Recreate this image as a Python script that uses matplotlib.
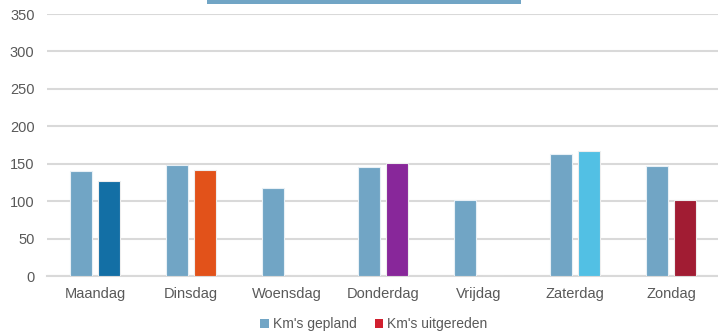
import matplotlib.pyplot as plt
import numpy as np
from matplotlib.patches import Rectangle, Patch

plt.rcParams['font.family'] = ['Liberation Sans', 'DejaVu Sans']

# Kilometres per day of the week
dagen = ['Maandag', 'Dinsdag', 'Woensdag', 'Donderdag', 'Vrijdag', 'Zaterdag', 'Zondag']
km_gepland = [140, 148, 118, 145, 101, 163, 147]
km_uitgereden = [127, 141, 0, 151, 0, 167, 101]

kleur_gepland = '#71A5C5'
kleuren_uitgereden = ['#136FA5', '#E2521A', '#E2521A', '#88279A', '#88279A', '#52C0E4', '#A11C33']
legend_rood = '#D1202F'
tekst = '#595959'
grid = '#D9D9D9'

fig = plt.figure(figsize=(7.18, 3.34), dpi=100)
ax = fig.add_axes([47 / 718, 1 - 276 / 334, 672 / 718, 262 / 334])

x = np.arange(len(dagen))
breedte = 0.226
tussen = 0.0625
ax.bar(x - (breedte + tussen) / 2, km_gepland, breedte, color=kleur_gepland,
       edgecolor='#E8F0F6', linewidth=0.8, zorder=3)
ax.bar(x + (breedte + tussen) / 2, km_uitgereden, breedte, color=kleuren_uitgereden,
       edgecolor='#EEEEEE', linewidth=0.8, zorder=3)

ax.set_xlim(-0.5, len(dagen) - 0.5)
ax.set_ylim(0, 350)
ax.set_yticks(range(0, 351, 50))
ax.set_xticks(x)
ax.set_xticklabels(dagen)
ax.yaxis.grid(True, color=grid, linewidth=1.5, zorder=0)
ax.set_axisbelow(True)
for s in ['top', 'right', 'left']:
    ax.spines[s].set_visible(False)
ax.spines['bottom'].set_color(grid)
ax.spines['bottom'].set_linewidth(1.5)
ax.tick_params(axis='both', length=0, labelsize=10.5, colors=tekst)
ax.tick_params(axis='x', pad=8)
ax.tick_params(axis='y', pad=9)

# title box clipped at the top edge
fig.patches.append(Rectangle((207 / 718, 1 - 4 / 334), 314 / 718, 4 / 334,
                             transform=fig.transFigure, facecolor=kleur_gepland,
                             edgecolor='none'))

handles = [Patch(facecolor=kleur_gepland, label="Km's gepland"),
           Patch(facecolor=legend_rood, label="Km's uitgereden")]
fig.legend(handles=handles, loc='center', bbox_to_anchor=(374 / 718, 1 - 324 / 334),
           ncol=2, frameon=False, fontsize=10, labelcolor=tekst,
           handlelength=0.6, handleheight=0.6, handletextpad=0.3, columnspacing=1.3)

fig.savefig('out.png', dpi=100)
